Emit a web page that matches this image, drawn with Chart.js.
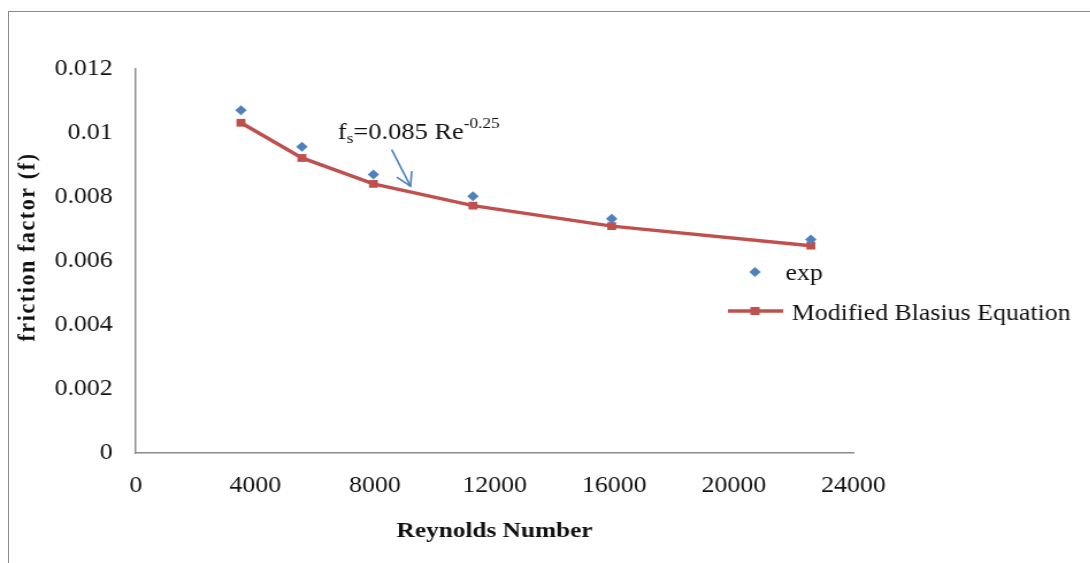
<!DOCTYPE html>
<html>
<head>
<meta charset="utf-8">
<script src="https://cdn.jsdelivr.net/npm/chart.js@4/dist/chart.umd.min.js"></script>
<style>
  html, body { margin:0; padding:0; background:#fff; }
  #wrap { position:relative; width:1090px; height:563px; overflow:hidden; }
  #frame { position:absolute; left:8px; top:11px; width:1200px; height:700px; border:1px solid #8a8a8a; box-sizing:border-box; }
  /* la figure d'origine est étirée horizontalement */
  #stretch { position:absolute; left:0; top:0; transform: scaleX(1.15); transform-origin: 0 0; }
</style>
</head>
<body>
<div id="wrap">
  <div id="frame"></div>
  <div id="stretch"><canvas id="chart" width="948" height="563"></canvas></div>
</div>
<script>
// données
const reynolds = [3520, 5560, 7950, 11280, 15920, 22580];
const expValues = [0.01071, 0.00957, 0.00870, 0.00802, 0.00732, 0.00667];
const blasiusValues = [0.01032, 0.00922, 0.00841, 0.00773, 0.00709, 0.00648];
const xTicks = [0, 4000, 8000, 12000, 16000, 20000, 24000];
const yTicks = [0, 0.002, 0.004, 0.006, 0.008, 0.01, 0.012];
// équation (coordonnées des données)
const eqAnchor = [6760, 0.00980];
const eqArrow = [[8560, 0.00948], [9190, 0.00834]];

const blue = '#4F81BD', red = '#C0504D', axisGray = '#8c8c8c';
const serif = "'Liberation Serif', 'Times New Roman', serif";

function toPts(xs, ys){ return xs.map((x,i)=>({x:x, y:ys[i]})); }

// légende façon Excel + titre vertical
const legendPlugin = {
  id: 'excelLegend',
  afterDraw(chart){
    const ctx = chart.ctx;
    const ds = chart.data.datasets;
    ctx.save();
    ctx.font = '22.5px ' + serif;
    ctx.textBaseline = 'alphabetic';
    // exp
    let y = 272;
    ctx.fillStyle = ds[0].pointBackgroundColor;
    ctx.beginPath();
    ctx.moveTo(656.5, y-5); ctx.lineTo(661.5, y); ctx.lineTo(656.5, y+5); ctx.lineTo(651.5, y);
    ctx.closePath(); ctx.fill();
    ctx.fillStyle = '#111';
    ctx.fillText(ds[0].label, 683, 280);
    // Modified Blasius
    y = 311;
    ctx.strokeStyle = ds[1].borderColor;
    ctx.lineWidth = ds[1].borderWidth;
    ctx.beginPath(); ctx.moveTo(633, y); ctx.lineTo(681, y); ctx.stroke();
    ctx.fillStyle = ds[1].pointBackgroundColor;
    ctx.fillRect(652.5, y-4, 8, 8);
    ctx.fillStyle = '#111';
    ctx.fillText(ds[1].label, 688.5, 320);

    // titre de l'axe y
    ctx.translate(24.5, 247);
    ctx.rotate(-Math.PI/2);
    ctx.font = 'bold 22px ' + serif;
    ctx.letterSpacing = '1.6px';
    ctx.textAlign = 'center';
    ctx.textBaseline = 'middle';
    ctx.fillText('friction factor (f)', 0, 0);
    ctx.restore();
  }
};

// équation + flèche
const eqPlugin = {
  id: 'equation',
  afterDatasetsDraw(chart){
    const ctx = chart.ctx, xs = chart.scales.x, ys = chart.scales.y;
    ctx.save();
    let x = xs.getPixelForValue(eqAnchor[0]);
    const y = ys.getPixelForValue(eqAnchor[1]);
    ctx.fillStyle = '#111';
    ctx.textBaseline = 'alphabetic';
    ctx.font = '23px ' + serif;
    ctx.fillText('f', x, y); x += ctx.measureText('f').width;
    ctx.font = '15px ' + serif;
    ctx.fillText('s', x, y + 4); x += ctx.measureText('s').width;
    ctx.font = '23px ' + serif;
    const mid = '=0.085 Re';
    ctx.fillText(mid, x, y); x += ctx.measureText(mid).width;
    ctx.font = '15px ' + serif;
    ctx.fillText('-0.25', x, y - 11);

    const x1 = xs.getPixelForValue(eqArrow[0][0]), y1 = ys.getPixelForValue(eqArrow[0][1]);
    const x2 = xs.getPixelForValue(eqArrow[1][0]), y2 = ys.getPixelForValue(eqArrow[1][1]);
    ctx.strokeStyle = blue; ctx.lineWidth = 1.6;
    ctx.beginPath(); ctx.moveTo(x1, y1); ctx.lineTo(x2, y2); ctx.stroke();
    const a = Math.atan2(y2-y1, x2-x1), h = 15;
    ctx.beginPath();
    ctx.moveTo(x2 - h*Math.cos(a-0.5), y2 - h*Math.sin(a-0.5));
    ctx.lineTo(x2, y2);
    ctx.lineTo(x2 - h*Math.cos(a+0.5), y2 - h*Math.sin(a+0.5));
    ctx.stroke();
    ctx.restore();
  }
};

new Chart(document.getElementById('chart'), {
  type: 'scatter',
  data: {
    datasets: [
      {
        label: 'exp',
        data: toPts(reynolds, expValues),
        pointStyle: 'rectRot',
        pointRadius: 5,
        pointBackgroundColor: blue,
        pointBorderColor: blue,
        pointBorderWidth: 0,
        showLine: false
      },
      {
        label: 'Modified Blasius Equation',
        data: toPts(reynolds, blasiusValues),
        pointStyle: 'rect',
        pointRadius: 5.5,
        pointBackgroundColor: red,
        pointBorderColor: red,
        pointBorderWidth: 0,
        borderColor: red,
        borderWidth: 3.5,
        showLine: true,
        tension: 0
      }
    ]
  },
  options: {
    responsive: false,
    animation: false,
    events: [],
    layout: { padding: { top: 69, right: 206, left: 0, bottom: 14 } },
    plugins: { legend: { display: false }, tooltip: { enabled: false } },
    scales: {
      x: {
        type: 'linear',
        min: 0, max: 24000,
        afterBuildTicks: s => { s.ticks = xTicks.map(v => ({value: v})); },
        afterFit: s => { s.height = 96; },
        grid: { display: false, drawTicks: false },
        border: { display: true, color: axisGray, width: 1.5 },
        ticks: { color: '#111', padding: 20, maxRotation: 0, font: { family: serif, size: 22.5 },
                 callback: v => String(v) },
        title: { display: true, text: 'Reynolds Number', color: '#111', padding: { top: 4, bottom: 4 },
                 font: { family: serif, size: 22, weight: 'bold' } }
      },
      y: {
        type: 'linear',
        min: 0, max: 0.012,
        afterBuildTicks: s => { s.ticks = yTicks.map(v => ({value: v})); },
        afterFit: s => { s.width = 118; },
        grid: { display: false, drawTicks: false },
        border: { display: true, color: axisGray, width: 1.5 },
        ticks: { color: '#111', padding: 20, font: { family: serif, size: 22.5 },
                 callback: v => String(+v.toFixed(3)) },
        title: { display: false }
      }
    }
  },
  plugins: [legendPlugin, eqPlugin]
});
</script>
</body>
</html>
